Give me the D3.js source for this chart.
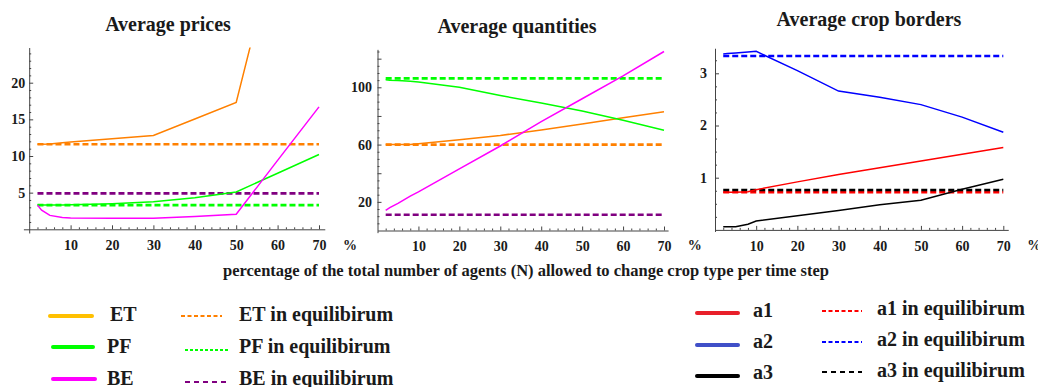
<!DOCTYPE html>
<html lang="en">
<head>
    <meta charset="utf-8" />
    <title>Average prices, quantities and crop borders</title>
    <script src="https://d3js.org/d3.v7.min.js"></script>
    <style>
        body { margin: 0; background: #fff; }
        text { font-family: "Liberation Serif", "Times New Roman", serif; font-weight: bold; fill: #1a1a1a; }
    </style>
</head>
<body>
    <div id="chart"></div>
    <script>
        // x positions (percentage of agents allowed to change crop type)
        const xValues = [2, 3, 5, 8, 10, 20, 30, 40, 50, 60, 70];
        const xMajor = [10, 20, 30, 40, 50, 60, 70];

        // Average prices
        const priceET = [11.6, 11.6, 11.65, 11.8, 11.9, 12.35, 12.8, 15.05, 17.3, 39.8, 62];
        const pricePF = [3.3, 3.3, 3.3, 3.3, 3.35, 3.5, 3.75, 4.3, 5.1, 7.65, 10.2];
        const priceBE = [3.3, 2.6, 1.9, 1.6, 1.55, 1.5, 1.5, 1.75, 2.05, 9.4, 16.7];
        const priceEq = { ET: 11.6, PF: 3.3, BE: 4.9 };
        const priceTicks = [5, 10, 15, 20];

        // Average quantities
        const qtyET = [60, 60, 60, 60, 60.5, 63.4, 66.4, 70.2, 74.3, 78.8, 82.9];
        const qtyPF = [105.3, 105, 104.7, 104.2, 103.7, 100, 94.3, 89, 83.4, 77, 70];
        const qtyBE = [14, 16, 19, 24, 27, 43, 59, 76, 92, 108, 125];
        const qtyEq = { ET: 60, PF: 106.2, BE: 11 };
        const qtyTicks = [20, 40, 60, 80, 100, 120];
        const qtyLabels = [20, 60, 100];

        // Average crop borders
        const borderA1 = [0.72, 0.72, 0.72, 0.73, 0.77, 0.92, 1.06, 1.19, 1.32, 1.45, 1.58];
        const borderA2 = [3.37, 3.38, 3.39, 3.41, 3.42, 3.05, 2.66, 2.54, 2.40, 2.16, 1.87];
        const borderA3 = [0.06, 0.06, 0.06, 0.11, 0.17, 0.27, 0.37, 0.48, 0.57, 0.78, 0.97];
        const borderEq = { a1: 0.72, a2: 3.33, a3: 0.765 };
        const borderTicks = [1, 2, 3];

        const titles = ["Average prices", "Average quantities", "Average crop borders"];
        const xCaption = "percentage of the total number of agents (N) allowed to change crop type per time step";
        const legendLeft = ["ET", "PF", "BE"];
        const legendRight = ["a1", "a2", "a3"];

        const colors = {
            ET: "#ff8000", PF: "#00ff00", BE: "#ff00ff", BEeq: "#800080",
            a1: "#ff0000", a2: "#0000ff", a3: "#000000"
        };

        const svg = d3.select("#chart").append("svg")
            .attr("width", 1038)
            .attr("height", 387);

        // panel layout: x 0..70 pixel anchors, y anchors (value 0 and a reference value)
        const panels = [
            {
                title: titles[0], titleX: 168, titleY: 31,
                x0: 29.2, x70: 319, xExt: [-1.4, 71.4],
                y0: 229.3, yRef: 20, yRefPx: 82.7, yExt: [-0.5, 24.8],
                yMajor: priceTicks, yLabels: priceTicks, yMinor: d3.range(1, 25, 1), labelPad: 4,
                series: [
                    { v: priceET, c: colors.ET }, { v: pricePF, c: colors.PF }, { v: priceBE, c: colors.BE }
                ],
                eq: [
                    { v: priceEq.ET, c: colors.ET }, { v: priceEq.BE, c: colors.BEeq }, { v: priceEq.PF, c: colors.PF }
                ]
            },
            {
                title: titles[1], titleX: 517, titleY: 33,
                x0: 377.5, x70: 664, xExt: [0, 71],
                y0: 230.5, yRef: 100, yRefPx: 87.3, yExt: [-1.5, 126.5],
                yMajor: qtyTicks, yLabels: qtyLabels, yMinor: d3.range(5, 126, 5), labelPad: 5.5,
                series: [
                    { v: qtyET, c: colors.ET }, { v: qtyPF, c: colors.PF }, { v: qtyBE, c: colors.BE }
                ],
                eq: [
                    { v: qtyEq.ET, c: colors.ET }, { v: qtyEq.PF, c: colors.PF }, { v: qtyEq.BE, c: colors.BEeq }
                ]
            },
            {
                title: titles[2], titleX: 869, titleY: 26,
                x0: 715, x70: 1003.3, xExt: [0, 71.2],
                y0: 229.9, yRef: 3, yRefPx: 73.3, yExt: [-0.03, 3.48],
                yMajor: borderTicks, yLabels: borderTicks, yMinor: d3.range(0.25, 3.5, 0.25), labelPad: 8,
                series: [
                    { v: borderA1, c: colors.a1 }, { v: borderA2, c: colors.a2 }, { v: borderA3, c: colors.a3 }
                ],
                eq: [
                    { v: borderEq.a1, c: colors.a1 }, { v: borderEq.a2, c: colors.a2 }, { v: borderEq.a3, c: colors.a3 }
                ]
            }
        ];

        function styleAxis(sel) {
            sel.selectAll("path, line").attr("stroke", "#444").attr("stroke-width", 1);
            sel.selectAll("text")
                .attr("font-family", "'Liberation Serif', serif")
                .attr("font-weight", "bold")
                .attr("font-size", 14)
                .attr("fill", "#1a1a1a");
        }

        panels.forEach((p, pi) => {
            const x = d3.scaleLinear().domain([0, 70]).range([p.x0, p.x70]);
            const y = d3.scaleLinear().domain([0, p.yRef]).range([p.y0, p.yRefPx]);
            const xa = d3.scaleLinear().domain(p.xExt).range(p.xExt.map(x));
            const ya = d3.scaleLinear().domain(p.yExt).range(p.yExt.map(y));

            const g = svg.append("g");

            // title
            g.append("text")
                .attr("x", p.titleX)
                .attr("y", p.titleY)
                .attr("text-anchor", "middle")
                .attr("font-size", 20)
                .text(p.title);

            // clip so the runaway lines stop at the top of the frame
            g.append("clipPath").attr("id", "clip" + pi)
                .append("rect")
                .attr("x", xa.range()[0])
                .attr("y", ya.range()[1])
                .attr("width", xa.range()[1] - xa.range()[0])
                .attr("height", ya.range()[0] - ya.range()[1]);

            // x axis: minor then major
            const xMinor = d3.range(2, 71, 2).filter(d => d % 10 !== 0);
            g.append("g")
                .attr("transform", `translate(0,${y(0)})`)
                .call(d3.axisBottom(xa).tickValues(xMinor).tickSize(-2).tickFormat(""))
                .call(s => s.select(".domain").remove())
                .call(styleAxis);
            g.append("g")
                .attr("transform", `translate(0,${y(0)})`)
                .call(d3.axisBottom(xa).tickValues(xMajor).tickSize(-4).tickSizeOuter(0).tickPadding(11).tickFormat(d3.format("d")))
                .call(styleAxis);

            // y axis: minor then major
            g.append("g")
                .attr("transform", `translate(${x(0)},0)`)
                .call(d3.axisLeft(ya).tickValues(p.yMinor.filter(d => !p.yMajor.includes(d))).tickSize(-2).tickFormat(""))
                .call(s => s.select(".domain").remove())
                .call(styleAxis);
            g.append("g")
                .attr("transform", `translate(${x(0)},0)`)
                .call(d3.axisLeft(ya).tickValues(p.yMajor).tickSize(-4).tickSizeOuter(0).tickPadding(p.labelPad)
                    .tickFormat(d => p.yLabels.includes(d) ? d : ""))
                .call(styleAxis);

            // % sign after the x ticks
            g.append("text")
                .attr("x", x(77.5))
                .attr("y", 250)
                .attr("text-anchor", "middle")
                .attr("font-size", 14)
                .text("%");

            const plot = g.append("g").attr("clip-path", `url(#clip${pi})`);

            // equilibrium levels (dashed)
            p.eq.forEach(e => {
                plot.append("path")
                    .attr("d", d3.line().x(d => x(d)).y(() => y(e.v))([2, 70]))
                    .attr("stroke", e.c)
                    .attr("stroke-width", 2.6)
                    .attr("stroke-dasharray", "6,3")
                    .attr("fill", "none");
            });

            // simulated averages
            const line = d3.line()
                .x((d, i) => x(xValues[i]))
                .y(d => y(d));
            p.series.forEach(s => {
                plot.append("path")
                    .attr("d", line(s.v))
                    .attr("stroke", s.c)
                    .attr("stroke-width", 1.5)
                    .attr("fill", "none");
            });
        });

        // shared x caption
        svg.append("text")
            .attr("x", 526)
            .attr("y", 276)
            .attr("text-anchor", "middle")
            .attr("font-size", 16.5)
            .text(xCaption);

        // legend, left block
        const legL = [
            { solid: "#ffc000", dash: colors.ET, dashArr: "4,2.5", ly: 316, dy: 316, ty: 321, sx: [50, 92], dx: [181, 222], tx: 110 },
            { solid: colors.PF, dash: colors.PF, dashArr: "3,2", ly: 347, dy: 350, ty: 353, sx: [53, 93], dx: [185, 228], tx: 107 },
            { solid: colors.BE, dash: colors.BEeq, dashArr: "5,4", ly: 379, dy: 382, ty: 385, sx: [53, 95], dx: [185, 228], tx: 107 }
        ];
        legendLeft.forEach((name, i) => {
            const r = legL[i];
            svg.append("line").attr("x1", r.sx[0]).attr("x2", r.sx[1]).attr("y1", r.ly).attr("y2", r.ly)
                .attr("stroke", r.solid).attr("stroke-width", 4).attr("stroke-linecap", "round");
            svg.append("text").attr("x", r.tx).attr("y", r.ty).attr("font-size", 20).text(name);
            svg.append("line").attr("x1", r.dx[0]).attr("x2", r.dx[1]).attr("y1", r.dy).attr("y2", r.dy)
                .attr("stroke", r.dash).attr("stroke-width", 2).attr("stroke-dasharray", r.dashArr);
            svg.append("text").attr("x", 239).attr("y", r.ty).attr("font-size", 20).text(name + " in equilibirum");
        });

        // legend, right block
        const legR = [
            { solid: "#e8202a", dash: colors.a1, dashArr: "4,2.5", ly: 313, dy: 311, ty: 317, ety: 315 },
            { solid: "#4050c8", dash: colors.a2, dashArr: "4,2.5", ly: 345, dy: 342, ty: 348, ety: 346 },
            { solid: "#000000", dash: colors.a3, dashArr: "5,4", ly: 376, dy: 372, ty: 379, ety: 377 }
        ];
        legendRight.forEach((name, i) => {
            const r = legR[i];
            svg.append("line").attr("x1", 697).attr("x2", 738).attr("y1", r.ly).attr("y2", r.ly)
                .attr("stroke", r.solid).attr("stroke-width", 4).attr("stroke-linecap", "round");
            svg.append("text").attr("x", 753).attr("y", r.ty).attr("font-size", 20).text(name);
            svg.append("line").attr("x1", 822).attr("x2", 862).attr("y1", r.dy).attr("y2", r.dy)
                .attr("stroke", r.dash).attr("stroke-width", 2).attr("stroke-dasharray", r.dashArr);
            svg.append("text").attr("x", 877).attr("y", r.ety).attr("font-size", 20).text(name + " in equilibirum");
        });
    </script>
</body>
</html>
